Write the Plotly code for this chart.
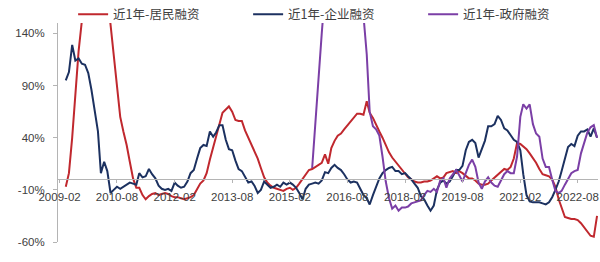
import pandas as pd
import plotly.graph_objects as go

# monthly data, 2009-04 .. 2023-02
dates = pd.date_range("2009-04-01", "2023-02-01", freq="MS")

household = [
    -7, 6, 40, 85, 123, 152, 185, 215, 240, 250,
    245, 230, 205, 178, 148, 117, 86, 60, 46, 33,
    17, 1, -8, -8, -15, -19, -16, -14, -13, -15,
    -14, -13, -14, -16, -17, -17, -18, -19, -18, -17,
    -15, -9, -4, -1, 6, 19, 31, 41, 53, 64,
    67, 70, 65, 57, 56, 56, 47, 40, 33, 27,
    20, 11, 2, -3, -6, -8, -9, -10, -11, -9,
    -8, -10, -8, -4, 0, 5, 9, 10, 12, 14,
    16, 24, 15, 30, 37, 42, 44, 48, 52, 55,
    59, 63, 63, 62, 75, 64, 59, 52, 46, 40,
    33, 26, 21, 17, 13, 9, 5, 2, 0, -2,
    -3, -3, -2, -2, -1, 1, 3, 1, 2, 6,
    7, 8, 6, 8, 6, 3, 1, 1, -1, -4,
    -5, -5, -4, -1, 2, 4, 7, 10, 9, 12,
    20, 35, 34, 32, 29, 25, 21, 16, 10, 5,
    4, 3, 0, -7, -19, -28, -36, -37, -38, -38,
    -39, -42, -46, -50, -54, -55, -35,
]

enterprise = [
    95, 103, 129, 114, 116, 111, 110, 102, 86, 68,
    46, 6, 17, 8, -13, -10, -7, -9, -7, -5,
    -3, -4, -5, 6, 2, 3, 10, 5, 1, -6,
    -9, -10, -9, -11, -3, -6, -8, -7, -2, 6,
    9, 20, 30, 33, 32, 46, 41, 45, 52, 52,
    38, 29, 28, 18, 10, 8, 2, -3, -2, -6,
    -13, -10, -2, -5, -8, -7, -5, -7, -3, -5,
    -3, -5, -8, -13, -19, -9, -5, -4, -3, -4,
    -1, 7, 6, 11, 14, 11, 9, 5, 0, -3,
    -2, -3, -9, -15, -18, -24, -15, -8, 1, 6,
    9, 11, 12, 8, 8, 5, 6, 3, 0, -4,
    -8, -16, -19, -25, -30, -25, -10, -3, -1, -4,
    -2, 3, 9, 9, 13, 28, 36, 38, 35, 21,
    29, 37, 51, 51, 53, 61, 57, 49, 47, 42,
    38, 36, 28, 5, -15, -21, -22, -22, -22, -23,
    -24, -22, -17, -10, -2, 8, 20, 31, 34, 32,
    42, 46, 46, 48, 41, 49, 40,
]

government = [None] * 77 + [
    11, 55, 105, 140, 180, 215, 240, 255, 262, 265,
    260, 250, 240, 225, 205, 185, 157, 120, 65, 51,
    48, 42, 22, -2, -18, -28, -25, -30, -27, -27,
    -26, -23, -22, -21,
    -20, -15, -11, -12, -9, -12, -1, 1, -8,
    1, 5, 9, 4, -2, 6, 14, 19, 12, -3,
    -9, -2, 2, -3, -6, -7, -1, 5, 8, 6,
    6, 22, 60, 72, 68, 72, 53, 44, 41, 20,
    12, 12, 0, -11, -13, -11, -5, 1, 6, 8,
    9, 25, 36, 45, 50, 52, 40,
]

series_names = ["近1年-居民融资", "近1年-企业融资", "近1年-政府融资"]
series_colors = ["#C0282E", "#1C3160", "#7B3FA6"]

x_tick_labels = ["2009-02", "2010-08", "2012-02", "2013-08", "2015-02",
                 "2016-08", "2018-02", "2019-08", "2021-02", "2022-08"]
x_tick_vals = [pd.Timestamp(s + "-01") for s in x_tick_labels]
y_tick_vals = [-60, -10, 40, 90, 140]
y_tick_text = [f"{v}%" for v in y_tick_vals]

Y_MIN, Y_MAX = -60, 150

fig = go.Figure()
for name, vals, col in zip(series_names, [household, enterprise, government], series_colors):
    fig.add_trace(go.Scatter(x=dates, y=vals, mode="lines", name=name,
                             line=dict(color=col, width=2), connectgaps=False))

axis_col = "#B4B4B4"
tick_font = dict(family="Liberation Sans, Arial, sans-serif", size=11.5, color="#404040")

fig.update_layout(
    width=600, height=262,
    margin=dict(l=58, r=2, t=23, b=20, autoexpand=False),
    paper_bgcolor="white", plot_bgcolor="white",
    showlegend=True,
    legend=dict(orientation="h", x=0.028, xanchor="left", y=1.107, yanchor="top",
                font=dict(family="Noto Sans CJK SC, sans-serif", size=12.5, color="#404040"),
                entrywidth=130, entrywidthmode="pixels", bgcolor="rgba(0,0,0,0)",
                tracegroupgap=0, itemwidth=30),
    xaxis=dict(type="date", range=["2009-01-17", "2023-02-10"],
               tickvals=x_tick_vals, ticktext=x_tick_labels,
               anchor="free", position=(0 - Y_MIN) / (Y_MAX - Y_MIN),
               showline=True, linecolor=axis_col, linewidth=1,
               ticks="outside", ticklen=3, tickcolor=axis_col,
               tickfont=tick_font, showgrid=False, zeroline=False,
               ticklabelstandoff=4),
    yaxis=dict(range=[Y_MIN, Y_MAX], tickvals=y_tick_vals, ticktext=y_tick_text,
               showline=True, linecolor=axis_col, linewidth=1,
               ticks="outside", ticklen=4, tickcolor=axis_col,
               tickfont=tick_font, showgrid=False, zeroline=False,
               ticklabelstandoff=6),
)

fig.write_html("out.html")
